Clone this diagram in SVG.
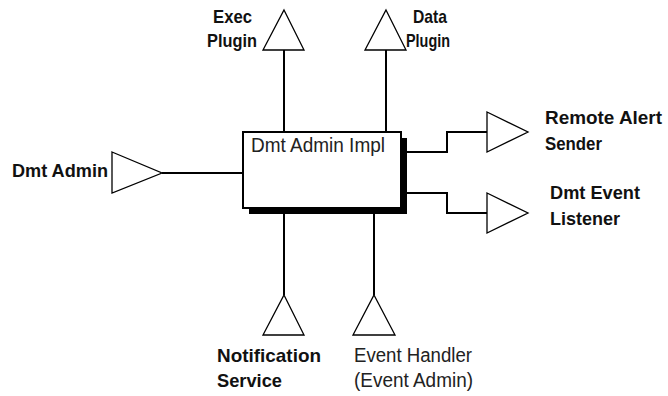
<svg xmlns="http://www.w3.org/2000/svg" width="668" height="396" viewBox="0 0 668 396">
<style>
.tri{fill:#fff;stroke:#000;stroke-width:1.3;stroke-linejoin:miter}
.con{fill:none;stroke:#000;stroke-width:2}
.b{font-family:"Liberation Sans",Arial,sans-serif;font-weight:bold;font-size:19px;fill:#111}
.r{font-family:"Liberation Sans",Arial,sans-serif;font-size:19.5px;fill:#222}
</style>
<rect width="668" height="396" fill="#fff"/>
<g id="connectors">
<path class="con" d="M284 50V132"/>
<path class="con" d="M386 50V132"/>
<path class="con" d="M162 173H243"/>
<path class="con" d="M404 152H447V132H487"/>
<path class="con" d="M404 193H447V213H487"/>
<path class="con" d="M284 212V295"/>
<path class="con" d="M374 212V295"/>
</g>
<g id="impl">
<rect x="249" y="138" width="158" height="76" fill="#000"/>
<rect x="243" y="132" width="158" height="76" fill="#fff" stroke="#000" stroke-width="2"/>
<text class="r" x="251" y="152" textLength="134" lengthAdjust="spacingAndGlyphs">Dmt Admin Impl</text>
</g>
<g id="exec">
<polygon class="tri" points="284,10 304,50 263,50"/>
<text class="b" x="213" y="23" textLength="39" lengthAdjust="spacingAndGlyphs">Exec</text>
<text class="b" x="207" y="47" textLength="50" lengthAdjust="spacingAndGlyphs">Plugin</text>
</g>
<g id="data">
<polygon class="tri" points="386,10 406,50 365,50"/>
<text class="b" x="413" y="23" textLength="34" lengthAdjust="spacingAndGlyphs">Data</text>
<text class="b" x="406" y="47" textLength="44" lengthAdjust="spacingAndGlyphs">Plugin</text>
</g>
<g id="admin">
<polygon class="tri" points="112,152 162,173 112,193"/>
<text class="b" x="12" y="177" textLength="96" lengthAdjust="spacingAndGlyphs">Dmt Admin</text>
</g>
<g id="alert">
<polygon class="tri" points="487,112 528,132 487,152"/>
<text class="b" x="545" y="124" textLength="117" lengthAdjust="spacingAndGlyphs">Remote Alert</text>
<text class="b" x="545" y="150" textLength="57" lengthAdjust="spacingAndGlyphs">Sender</text>
</g>
<g id="listener">
<polygon class="tri" points="487,193 528,213 487,233"/>
<text class="b" x="550" y="199" textLength="90" lengthAdjust="spacingAndGlyphs">Dmt Event</text>
<text class="b" x="550" y="225" textLength="70" lengthAdjust="spacingAndGlyphs">Listener</text>
</g>
<g id="notification">
<polygon class="tri" points="284,295 304,335 263,335"/>
<text class="b" x="217" y="362" textLength="104" lengthAdjust="spacingAndGlyphs">Notification</text>
<text class="b" x="217" y="387" textLength="65" lengthAdjust="spacingAndGlyphs">Service</text>
</g>
<g id="eventhandler">
<polygon class="tri" points="374,295 395,335 353,335"/>
<text class="r" x="354" y="362" textLength="118" lengthAdjust="spacingAndGlyphs">Event Handler</text>
<text class="r" x="354" y="387" textLength="119" lengthAdjust="spacingAndGlyphs">(Event Admin)</text>
</g>
</svg>
